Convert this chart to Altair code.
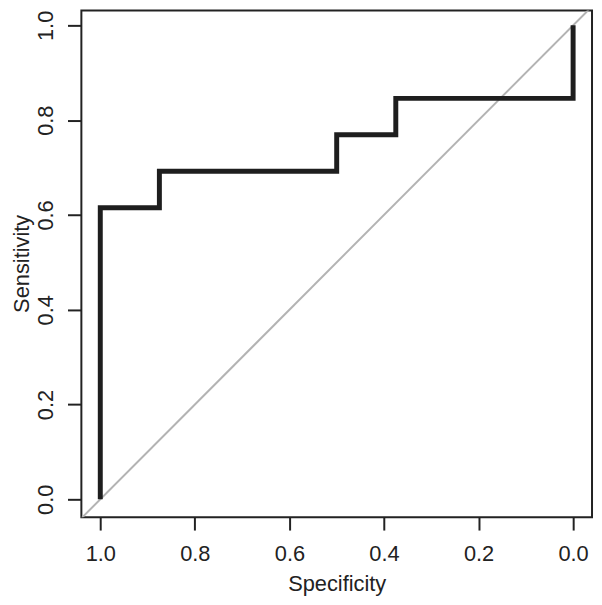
import altair as alt
import pandas as pd

# ROC curve (step) points
specificity = [1.0, 1.0, 0.875, 0.875, 0.5, 0.5, 0.375, 0.375, 0.0, 0.0]
sensitivity = [0.0, 0.615, 0.615, 0.692, 0.692, 0.769, 0.769, 0.846, 0.846, 1.0]

# chance diagonal (sens = 1 - spec), extended beyond the frame and clipped
diag_spec = [1.1, -0.1]
diag_sens = [-0.1, 1.1]

tick_values = [0.0, 0.2, 0.4, 0.6, 0.8, 1.0]

roc = pd.DataFrame({"spec": specificity, "sens": sensitivity, "order": list(range(len(specificity)))})
diag = pd.DataFrame({"spec": diag_spec, "sens": diag_sens})

FONT = "Liberation Sans"
INK = "#222222"

xscale = alt.Scale(domain=[1.04, -0.04], nice=False, zero=False)
yscale = alt.Scale(domain=[-0.0377, 1.0314], nice=False, zero=False)

xaxis = alt.Axis(
    values=tick_values, format=".1f", title="Specificity", domain=False, grid=False,
    tickSize=13, tickWidth=2, tickColor=INK,
    labelFont=FONT, labelFontSize=22, labelColor=INK, labelPadding=14,
    titleFont=FONT, titleFontSize=22, titleFontWeight="normal", titleColor=INK,
    titleX=257.5, titleY=74, titleAlign="center", titleBaseline="alphabetic",
)
yaxis = alt.Axis(
    values=tick_values, format=".1f", title="Sensitivity", domain=False, grid=False,
    tickSize=14, tickWidth=2, tickColor=INK,
    labelFont=FONT, labelFontSize=22, labelColor=INK, labelPadding=10,
    labelAngle=270, labelAlign="center", labelBaseline="bottom",
    titleFont=FONT, titleFontSize=22, titleFontWeight="normal", titleColor=INK,
    titleAngle=270, titleX=-53, titleY=255, titleAlign="center", titleBaseline="alphabetic",
)

diag_layer = alt.Chart(diag).mark_line(color="#b3b3b3", strokeWidth=2, clip=True).encode(
    x=alt.X("spec:Q", scale=xscale, axis=xaxis),
    y=alt.Y("sens:Q", scale=yscale, axis=yaxis),
)

roc_layer = alt.Chart(roc).mark_line(color="#1e1e1e", strokeWidth=5, strokeCap="butt", strokeJoin="miter", clip=True).encode(
    x=alt.X("spec:Q", scale=xscale),
    y=alt.Y("sens:Q", scale=yscale),
    order="order:Q",
)

chart = alt.layer(diag_layer, roc_layer).properties(
    width=515, height=511,
    autosize=alt.AutoSizeParams(type="none"),
    padding={"left": 74, "top": 0, "right": 2, "bottom": 78},
    background="white",
).configure_view(stroke=INK, strokeWidth=2)

chart.save("out.html", embed_options={"renderer": "svg", "actions": False})
